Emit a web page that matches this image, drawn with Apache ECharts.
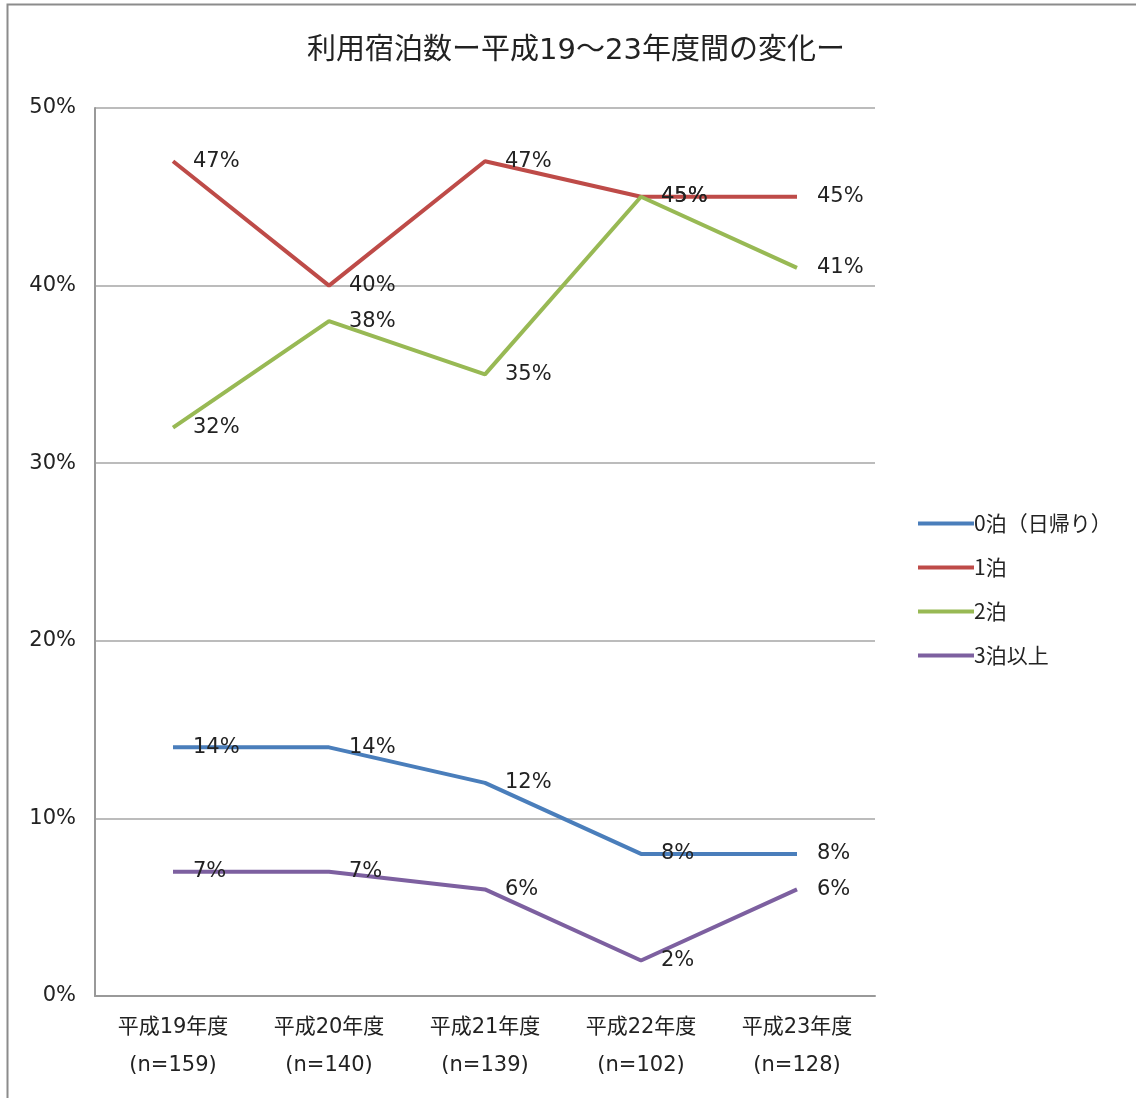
<!DOCTYPE html>
<html>
<head>
<meta charset="utf-8">
<script src="https://cdn.jsdelivr.net/npm/echarts@6/dist/echarts.min.js"></script>
<style>
html,body{margin:0;padding:0;background:#fff;}
#chart{width:1136px;height:1098px;}
</style>
</head>
<body>
<div id="chart"></div>
<script>
// Fiscal years with sample sizes
const categories = ['平成19年度\n(n=159)', '平成20年度\n(n=140)', '平成21年度\n(n=139)', '平成22年度\n(n=102)', '平成23年度\n(n=128)'];
const seriesNames = ['0泊（日帰り）', '1泊', '2泊', '3泊以上'];
// Share of respondents by number of nights (%)
const dayTrip = [14, 14, 12, 8, 8];
const oneNight = [47, 40, 47, 45, 45];
const twoNights = [32, 38, 35, 45, 41];
const threePlus = [7, 7, 6, 2, 6];
const yTicks = [0, 10, 20, 30, 40, 50];

const colors = ['#4a7ebb', '#be4b48', '#98b954', '#7d60a0'];
const values = [dayTrip, oneNight, twoNights, threePlus];
const font = '"DejaVu Sans", "Noto Sans CJK JP", sans-serif';
const legendFont = '"Noto Sans CJK JP", sans-serif';

const chart = echarts.init(document.getElementById('chart'));
chart.setOption({
  backgroundColor: '#fff',
  animation: false,
  textStyle: { fontFamily: font },
  graphic: [{
    type: 'rect',
    shape: { x: 7.5, y: 4.5, width: 1140, height: 1110 },
    style: { fill: 'none', stroke: '#8c8c8c', lineWidth: 2 },
    silent: true
  }],
  title: {
    text: '利用宿泊数ー平成19〜23年度間の変化ー',
    left: 571, textAlign: 'center', top: 32,
    textStyle: { fontSize: 29, fontWeight: 'normal', color: '#222', fontFamily: font }
  },
  legend: {
    orient: 'vertical',
    left: 913, top: 508,
    itemWidth: 56, itemHeight: 4, itemGap: 23,
    icon: 'rect',
    data: seriesNames,
    textStyle: { fontSize: 21, color: '#222', padding: [0, 0, 0, -5], fontFamily: legendFont }
  },
  grid: { left: 95, right: 261, top: 108, bottom: 102 },
  xAxis: {
    type: 'category',
    data: categories,
    boundaryGap: true,
    axisLine: { lineStyle: { color: '#999', width: 2 } },
    axisTick: { show: false },
    axisLabel: { fontSize: 21, color: '#222', lineHeight: 38, margin: 13, fontFamily: font }
  },
  yAxis: {
    type: 'value',
    min: yTicks[0], max: yTicks[yTicks.length - 1], interval: 10,
    axisLine: { show: true, lineStyle: { color: '#999', width: 2 } },
    axisTick: { show: false },
    splitLine: { lineStyle: { color: '#a6a6a6', width: 1.5 } },
    axisLabel: { formatter: '{value}%', fontSize: 21, color: '#222', margin: 19, fontFamily: font }
  },
  series: values.map((v, i) => ({
    name: seriesNames[i],
    type: 'line',
    data: v,
    color: colors[i],
    symbol: 'circle',
    symbolSize: 0,
    showSymbol: true,
    lineStyle: { width: 4, color: colors[i] },
    label: {
      show: true,
      position: 'right',
      distance: 20,
      formatter: '{c}%',
      fontSize: 21,
      color: '#222',
      fontFamily: font
    },
    labelLayout: { hideOverlap: false },
    z: 2 + i
  }))
});
</script>
</body>
</html>
